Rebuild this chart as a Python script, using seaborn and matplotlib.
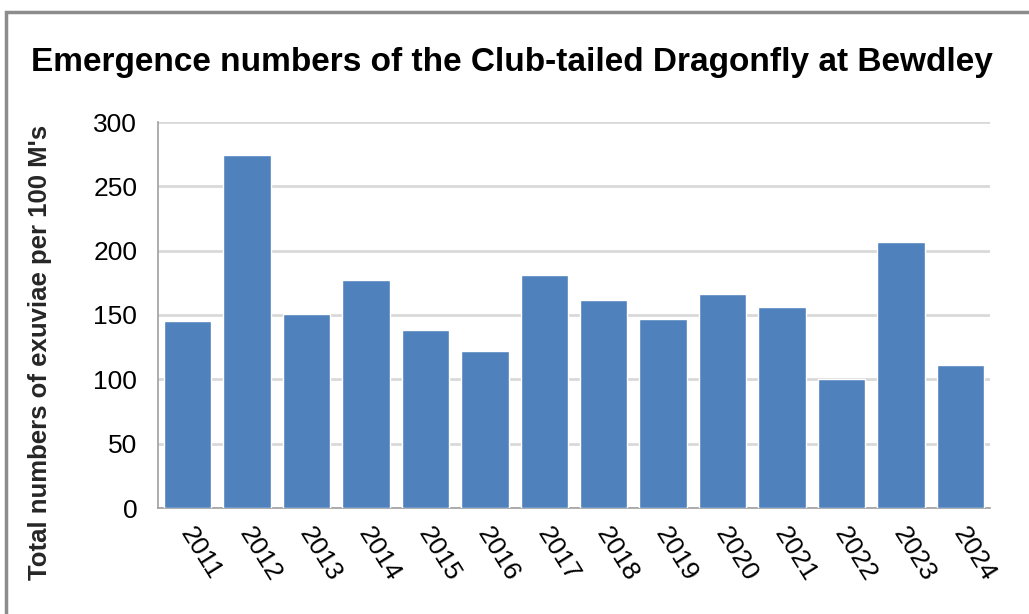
import matplotlib
matplotlib.use("Agg")
import matplotlib.pyplot as plt
import matplotlib.patches as mpatches
import matplotlib.transforms as mtrans
import seaborn as sns
import pandas as pd

# data
years = ["2011", "2012", "2013", "2014", "2015", "2016", "2017",
         "2018", "2019", "2020", "2021", "2022", "2023", "2024"]
exuviae = [145, 274, 151, 177, 138, 122, 181, 162, 147, 166, 156, 100, 207, 111]

df = pd.DataFrame({"Year": years, "Exuviae": exuviae})

sns.set_style("white")
plt.rcParams["font.family"] = ["Liberation Sans", "DejaVu Sans"]
plt.rcParams["text.color"] = "black"
plt.rcParams["xtick.labelcolor"] = "black"
plt.rcParams["ytick.labelcolor"] = "black"

fig = plt.figure(figsize=(10.29, 6.14), dpi=100)
ax = fig.add_axes([158 / 1029, 1 - 508 / 614, (990 - 158) / 1029, (508 - 122) / 614])

sns.barplot(data=df, x="Year", y="Exuviae", color="#4F81BD", saturation=1,
            width=0.8, ax=ax, zorder=3)

ax.set_xlim(-0.5, len(years) - 0.5)
ax.set_ylim(0, 300)
ax.set_yticks(range(0, 301, 50))
ax.yaxis.grid(True, color="#D9D9D9", linewidth=2, zorder=0)
ax.set_axisbelow(True)

# tick marks sit between categories on the x axis
ax.set_xticks([i - 0.5 for i in range(len(years) + 1)], minor=True)
ax.tick_params(axis="x", which="major", length=0, pad=11, labelsize=19,
               labelrotation=-58)
ax.tick_params(axis="x", which="minor", length=6, color="#A0A0A0", width=1.2)
ax.tick_params(axis="y", length=8, color="#A0A0A0", width=1.2, labelsize=19, pad=7)
shift = mtrans.ScaledTranslation(8 / 100, 0, fig.dpi_scale_trans)
for lbl in ax.get_xticklabels():
    lbl.set_ha("left")
    lbl.set_va("top")
    lbl.set_rotation_mode("anchor")
    lbl.set_transform(lbl.get_transform() + shift)

for side in ["top", "right"]:
    ax.spines[side].set_visible(False)
for side in ["left", "bottom"]:
    ax.spines[side].set_color("#A0A0A0")
    ax.spines[side].set_linewidth(1.2)

ax.set_xlabel("")
ax.set_ylabel("Total numbers of exuviae per 100 M's", fontsize=18.5,
              fontweight="bold")
ax.yaxis.set_label_coords((52 - 158) / 832, (508 - 352) / 386)

fig.text(512 / 1029, 1 - 62 / 614,
         "Emergence numbers of the Club-tailed Dragonfly at Bewdley",
         ha="center", va="center", fontsize=24, fontweight="bold")

# grey frame around the chart, cut off at the right and bottom edges
frame = mpatches.Rectangle((6 / 1029, -0.2), 1.2, 1.2 - 12 / 614,
                           transform=fig.transFigure, fill=False,
                           edgecolor="#8C8C8C", linewidth=2.5)
fig.patches.append(frame)

fig.savefig("out.png", dpi=100)
